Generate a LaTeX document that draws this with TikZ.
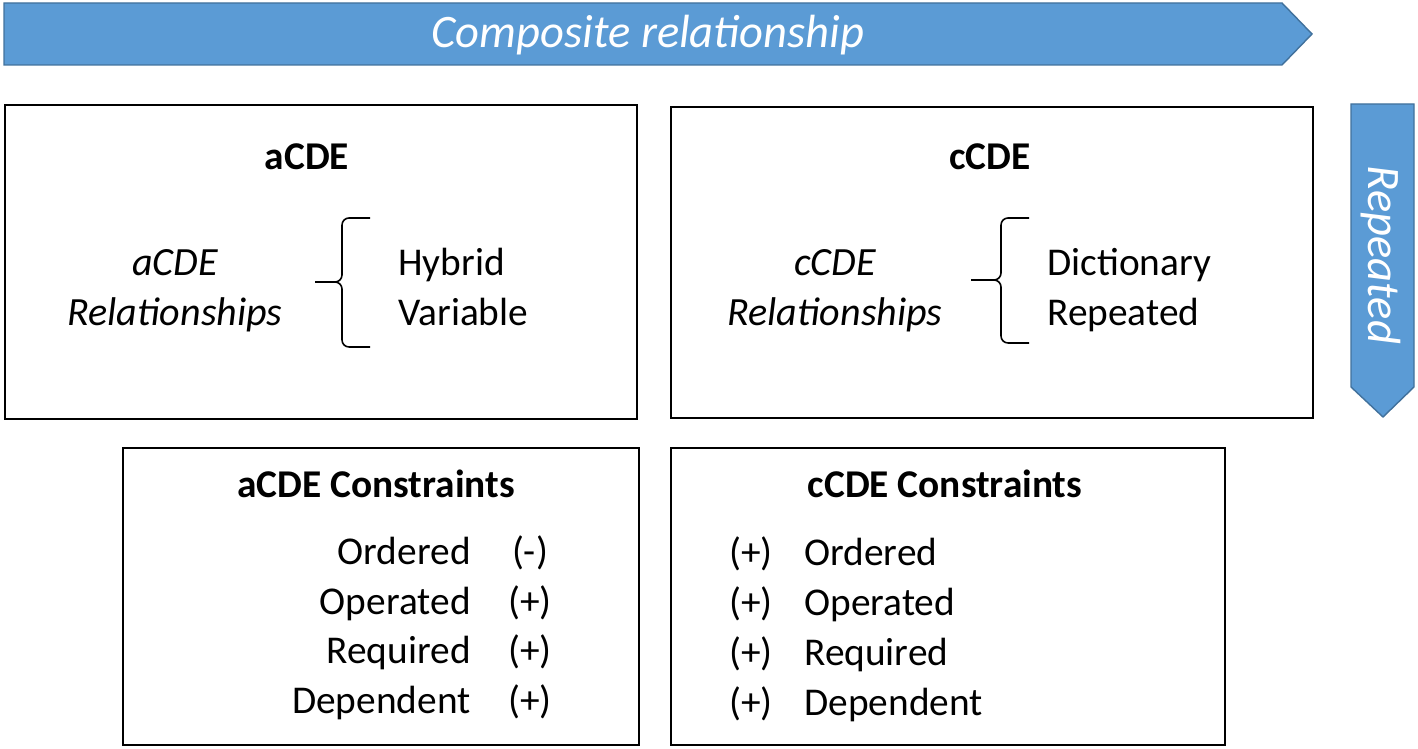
\documentclass[tikz,border=0pt]{standalone}
\usepackage{fontspec}
\setmainfont{Carlito}
\usetikzlibrary{positioning}
\definecolor{bannerblue}{HTML}{5B9BD5}
\definecolor{bannerline}{HTML}{41719C}

\begin{document}
\begin{tikzpicture}[
		x=0.02cm, y=-0.02cm,
		banner/.style={fill=bannerblue, draw=bannerline, line width=0.8pt},
		bannertext/.style={text=white, inner sep=0pt, font=\fontsize{26.5}{30}\selectfont\itshape},
		panel/.style={draw, line width=1.1pt, anchor=north west, inner sep=0pt},
		txt/.style={inner sep=0pt, font=\fontsize{22.4}{26}\selectfont},
		reltxt/.style={inner sep=0pt, anchor=base, font=\fontsize{22.8}{26}\selectfont\itshape},
		head/.style={inner sep=0pt, anchor=base, font=\fontsize{22.4}{26}\selectfont\bfseries},
		bracket/.style={line width=0.9pt, rounded corners=4pt}
		]
		\useasboundingbox (0,0) rectangle (1418,749);
		
		% banners
		\draw[banner] (4,3) -- (1282,3) -- (1312,34) -- (1282,65) -- (4,65) -- cycle;
		\node[bannertext, anchor=base] (comp) at (648,48) {Composite relationship};
		\draw[banner] (1351,104) -- (1414,104) -- (1414,387) -- (1383,417) -- (1351,387) -- cycle;
		\node[bannertext, rotate=-90] (rep) at (1381,255) {Repeated};
		
		% panels
		\node[panel, minimum width=12.64cm, minimum height=6.28cm] (abox) at (4,104) {};
		\node[panel, minimum width=12.84cm, minimum height=6.22cm] (cbox) at (670,106) {};
		\node[panel, minimum width=10.32cm, minimum height=5.94cm] (aconbox) at (122,447) {};
		\node[panel, minimum width=11.08cm, minimum height=5.94cm] (cconbox) at (670,447) {};
		
		% aCDE
		\node[head] (atitle) at (307,170) {aCDE};
		\node[reltxt] (arel1) at (175,276) {aCDE};
		\node[reltxt] (arel2) at (175,326) {Relationships};
		\node[txt, anchor=base west] (ahyb) at (398,276) {Hybrid};
		\node[txt, anchor=base west] (avar) at (398,326) {Variable};
		\draw[bracket] (370,218) -- (342,218) -- (342,282) -- (315,282);
		\draw[bracket] (315,282) -- (342,282) -- (342,347) -- (370,347);
		
		% cCDE
		\node[head] (ctitle) at (990,170) {cCDE};
		\node[reltxt] (crel1) at (835,276) {cCDE};
		\node[reltxt] (crel2) at (835,326) {Relationships};
		\node[txt, anchor=base west] (cdict) at (1047,276) {Dictionary};
		\node[txt, anchor=base west] (crep) at (1047,326) {Repeated};
		\draw[bracket] (1029,218) -- (1001,218) -- (1001,280) -- (971,280);
		\draw[bracket] (971,280) -- (1001,280) -- (1001,343) -- (1029,343);
		
		% constraints
		\node[head] (acontitle) at (376,498) {aCDE Constraints};
		\node[head] (ccontitle) at (945,498) {cCDE Constraints};
		\foreach \lab/\sgn [count=\i] in {Ordered/(-), Operated/(+), Required/(+), Dependent/(+)}{
			\node[txt, anchor=base east] (alab\i) at (471,{565+49.4*(\i-1)}) {\lab};
			\node[txt, anchor=base] (asgn\i) at (530,{565+49.4*(\i-1)}) {\sgn};
		}
		\foreach \lab [count=\i] in {Ordered, Operated, Required, Dependent}{
			\node[txt, anchor=base] (csgn\i) at (751,{566+50*(\i-1)}) {(+)};
			\node[txt, anchor=base west] (clab\i) at (804,{566+50*(\i-1)}) {\lab};
		}
	\end{tikzpicture}
\end{document}
